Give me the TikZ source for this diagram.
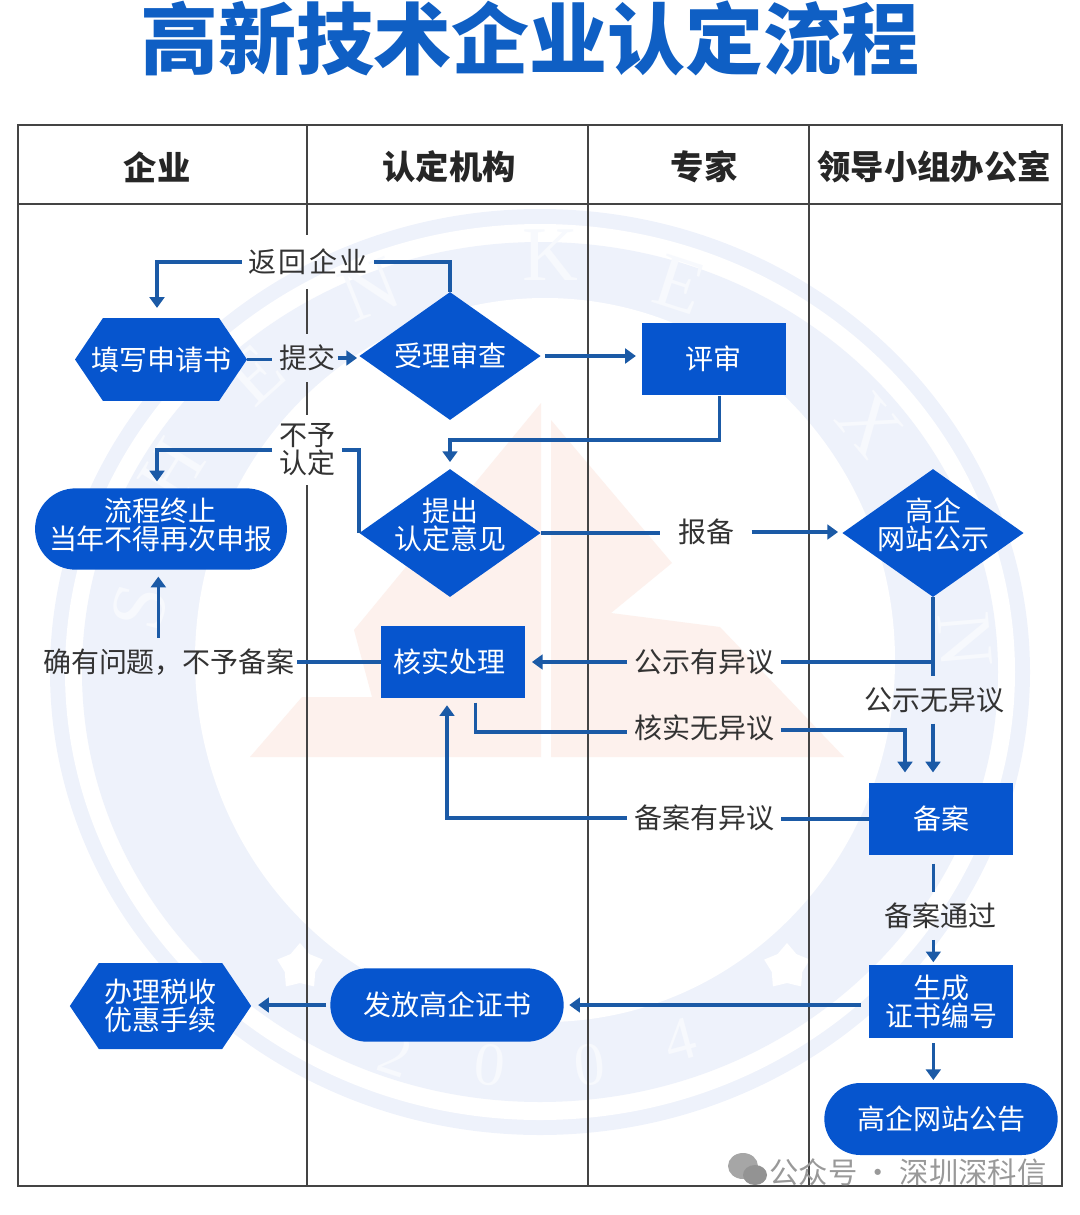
\documentclass[tikz,border=0pt]{standalone}
\usepackage{fontspec}
\setmainfont{Noto Sans CJK SC}
\newfontfamily\markfont{Liberation Serif}
\usetikzlibrary{arrows.meta,shapes.geometric,shapes.misc,shapes.symbols}
\definecolor{boxblue}{HTML}{0655CE}
\definecolor{lineblue}{HTML}{1B5AA6}
\definecolor{titleblue}{HTML}{0F5FC4}
\definecolor{lanegray}{HTML}{444444}
\definecolor{labelgray}{HTML}{333333}
\definecolor{markblue}{HTML}{EEF2FB}
\definecolor{markred}{HTML}{FDF1ED}
\tikzset{
  boxtext/.style={text=white,fill=boxblue,font=\fontsize{21}{21}\selectfont,align=center,inner sep=0pt},
  rectbox/.style={boxtext,minimum width=108pt,minimum height=54.5pt},
  pillbox/.style={boxtext,rounded rectangle,minimum height=61pt},
  diabox/.style={boxtext,diamond,aspect=1.41,inner sep=-20pt,minimum width=136pt,minimum height=96pt},
  hexbox/.style={boxtext,signal,signal to=east and west,signal pointer angle=112,inner xsep=-10pt},
  flowlabel/.style={text=labelgray,font=\fontsize{21}{21}\selectfont,align=center,inner xsep=5pt,inner ysep=8pt},
  flowline/.style={lineblue,line width=2.6pt},
  flowarrow/.style={flowline,-{Triangle[length=8pt,width=11pt]}},
  lanehead/.style={text=black!85,font=\fontsize{25}{25}\selectfont\bfseries},
  laneline/.style={lanegray,line width=2.2pt},
  markletter/.style={text=white!55!markblue,font=\markfont\fontsize{58}{58}\selectfont},
  markstar/.style={star,star points=5,fill=white,minimum size=36pt,inner sep=0pt}
}
\begin{document}
\begin{tikzpicture}[x=0.75pt,y=-0.75pt]
  \useasboundingbox (0,0) rectangle (1080,1215);
  % watermark
  \fill[markblue] (540,672) ellipse (490 and 463);
  \fill[white] (540,672) ellipse (475 and 448);
  \fill[markblue] (540,672) ellipse (458 and 430);
  \fill[white] (545,660) ellipse (350 and 362);
  \foreach \ch/\px/\py/\rot [count=\i] in {S/140/607/75,H/172/470/58,E/255/375/42,N/370/290/22,K/550/255/0,E/680/285/-18,X/870/425/-50,I/945/530/-68,N/965/640/-85}
    \node[markletter,rotate=\rot] (letter\i) at (\px,\py) {\ch};
  \foreach \ch/\px/\py/\rot [count=\i] in {2/395/1055/-18,0/490/1065/-6,0/590/1065/6,4/680/1040/15}
    \node[markletter,rotate=\rot,font=\markfont\fontsize{46}{46}\selectfont] (digit\i) at (\px,\py) {\ch};
  \node[markstar] (stara) at (300,967) {};
  \node[markstar] (starb) at (787,967) {};
  \fill[markred] (541,403) -- (354,630) -- (372,697) -- (302,697) -- (250,757) -- (541,757) -- cycle;
  \fill[markred] (551,420) -- (672,563) -- (611,613) -- (720,627) -- (844,757) -- (551,757) -- cycle;
  % swim lanes
  \draw[laneline] (18,125) rectangle (1062,1186);
  \draw[laneline] (18,204) -- (1062,204);
  \foreach \x in {588,809}
    \draw[laneline] (\x,125) -- (\x,1186);
  \draw[laneline] (307,125) -- (307,235) (307,289) -- (307,334) (307,382) -- (307,415) (307,485) -- (307,1186);
  \node[text=titleblue,font=\fontsize{58.5}{58.5}\selectfont\bfseries] (title) at (530,38) {高新技术企业认定流程};
  \node[lanehead] (headqy) at (157,167) {企业};
  \node[lanehead] (headrd) at (449,167) {认定机构};
  \node[lanehead] (headzj) at (704,167) {专家};
  \node[lanehead] (headxz) at (934,167) {领导小组办公室};
  % steps
  \node[hexbox,minimum width=129pt,minimum height=62pt] (apply) at (161,359.5) {填写申请书};
  \node[diabox] (accept) at (450,356) {受理审查};
  \node[rectbox] (review) at (713.5,359) {评审};
  \node[diabox,text depth=14pt] (opinion) at (450,533) {提出\\认定意见};
  \node[pillbox,minimum width=186pt,text depth=7.3pt] (stop) at (161,529) {流程终止\\当年不得再次申报};
  \node[diabox,text depth=14pt] (notice) at (933,533) {高企\\网站公示};
  \node[rectbox] (check) at (453,662) {核实处理\hspace{6pt}};
  \node[rectbox] (record) at (941,819) {备案};
  \node[rectbox] (number) at (941,1001.5) {生成\\证书编号};
  \node[pillbox,minimum width=175pt,minimum height=54pt] (bulletin) at (941,1119) {高企网站公告};
  \node[pillbox,minimum width=175pt,minimum height=55pt] (issue) at (447,1005) {发放高企证书};
  \node[hexbox,minimum width=136pt,minimum height=64.5pt] (tax) at (160.5,1006) {办理税收\\优惠手续};
  % labels on the connectors
  \node[flowlabel] (back) at (308,262) {\addfontfeature{LetterSpace=8}返回企业};
  \node[flowlabel] (submit) at (307,358) {提交};
  \node[flowlabel,inner ysep=6pt] (refuse) at (307,450) {不予\\认定};
  \node[flowlabel,inner xsep=13pt] (report) at (706,532) {报备};
  \node[flowlabel] (objecta) at (704,662) {公示有异议};
  \node[flowlabel] (passa) at (934,700) {公示无异议};
  \node[flowlabel] (passb) at (704,728) {核实无异议};
  \node[flowlabel] (objectb) at (704,818) {备案有异议};
  \node[flowlabel] (passc) at (940,916) {备案通过};
  \node[flowlabel,inner xsep=1pt] (problem) at (169,662) {确有问题，不予备案};
  % the mark in the corner
  \fill[gray!70] (743,1166) ellipse (15 and 13);
  \fill[gray!85] (755,1175) ellipse (12 and 10);
  \node[text=gray!80,font=\fontsize{22}{22}\selectfont,inner sep=0pt] (account) at (908,1172) {公众号 · 深圳深科信};
  % connectors
  \coordinate (turn) at (450,440);
  \draw[flowline] (accept.north) |- (back.east);
  \draw[flowarrow,shorten >=7.5pt] (back.west) -| ([xshift=-3pt]apply.north);
  \draw[flowline] (apply.east) -- (apply.east -| submit.west);
  \draw[flowarrow,shorten <=-3pt,shorten >=1.5pt] (submit.east) -- (submit.east -| accept.west);
  \draw[flowarrow,shorten <=3pt,shorten >=4pt] (accept.east) -- (accept.east -| review.west);
  \draw[flowarrow,shorten >=5pt] ([xshift=4.5pt]review.south) |- (turn) -- (opinion.north);
  \draw[flowline] (opinion.west) |- (refuse.east);
  \draw[flowarrow,shorten >=5pt] (refuse.west) -| ([xshift=-3pt]stop.north);
  \draw[flowline] (opinion.east) -- (opinion.east -| report.west);
  \draw[flowarrow,shorten >=3pt] (report.east) -- (report.east -| notice.west);
  \draw[flowline] (notice.south) |- (objecta.east);
  \draw[flowline] (notice.south) -- (notice.south |- passa.north);
  \draw[flowarrow,shorten >=5pt] (objecta.west) -- (objecta.west -| check.east);
  \draw[flowarrow,shorten >=7.5pt] (notice.south |- passa.south) -- (notice.south |- record.north);
  \draw[flowline,shorten <=3pt] ([xshift=17pt]check.south) |- ([yshift=-3pt]passb.west);
  \draw[flowarrow,shorten >=7.5pt] ([yshift=-1.5pt]passb.east) -| ([xshift=-27pt]record.north);
  \draw[flowline] (record.west) -- (record.west -| objectb.east);
  \draw[flowarrow,shorten >=5pt] (objectb.west) -| ([xshift=-4.5pt]check.south);
  \draw[flowline] (check.west) -- (check.west -| problem.east);
  \draw[flowarrow,shorten >=5pt] ([xshift=-2pt]problem.north -| stop.south) -- ([xshift=-2pt]stop.south);
  \draw[flowline,shorten <=6pt] ([xshift=-5pt]passc.north |- record.south) -- ([xshift=-5pt]passc.north);
  \draw[flowarrow,shorten >=2pt] ([xshift=-5pt]passc.south) -- ([xshift=-5pt]passc.south |- number.north);
  \draw[flowarrow,shorten <=4pt,shorten >=2pt] ([xshift=-5pt]passc.south |- number.south) -- ([xshift=-5pt]passc.south |- bulletin.north);
  \draw[flowarrow,shorten <=6pt,shorten >=4pt] (issue.east -| number.west) -- (issue.east);
  \draw[flowarrow,shorten <=3pt,shorten >=5pt] (issue.west) -- (issue.west -| tax.east);
\end{tikzpicture}
\end{document}
